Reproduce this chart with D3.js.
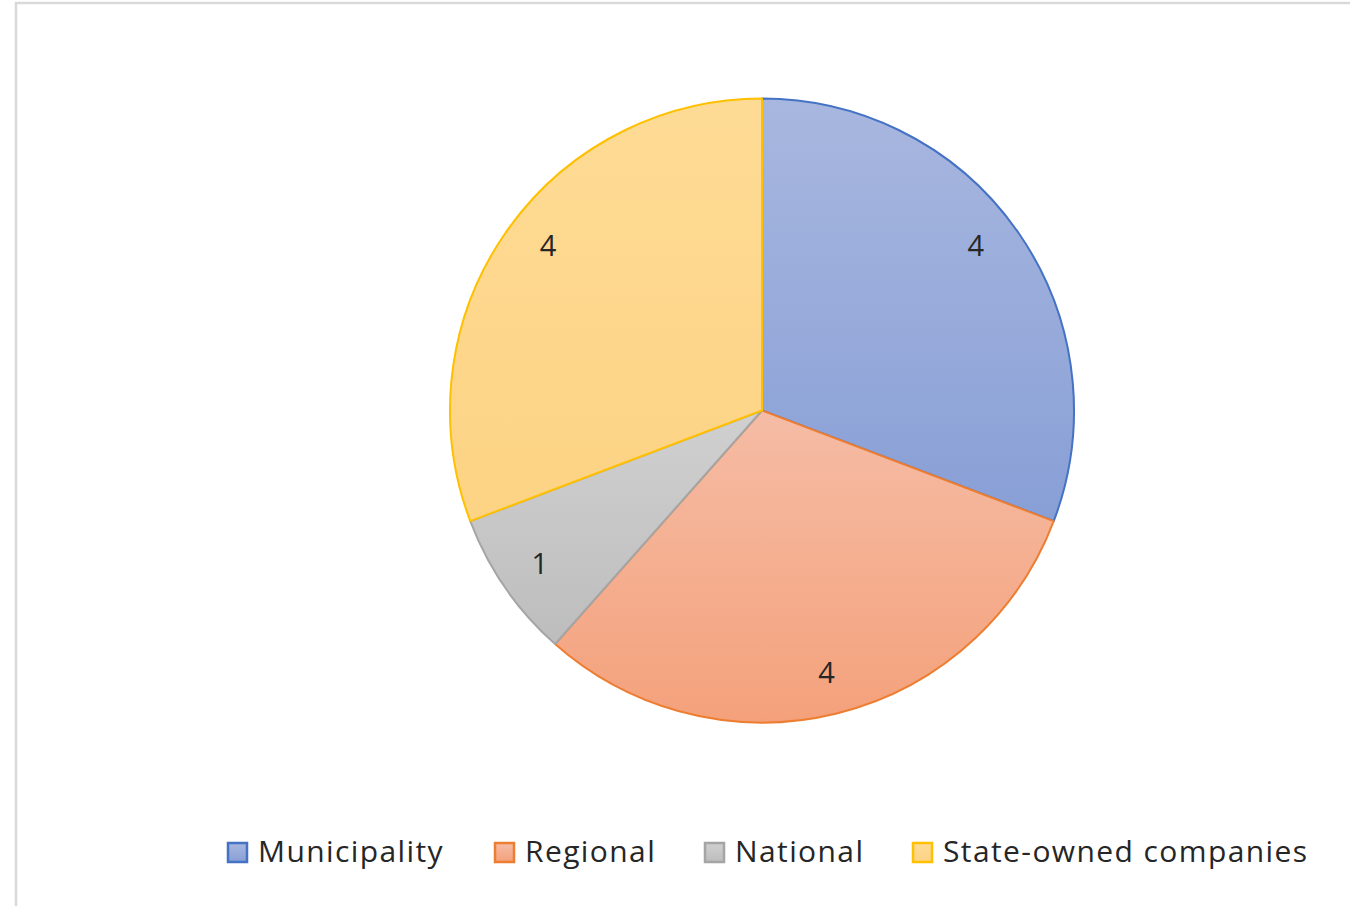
<!DOCTYPE html>
<html><head><meta charset="utf-8">
<script src="https://cdn.jsdelivr.net/npm/d3@7"></script>
<style>html,body{margin:0;padding:0;background:#fff;}svg{display:block;}</style>
</head><body>
<svg id="chart" width="1350" height="906"></svg>
<script>
const categories = ["Municipality", "Regional", "National", "State-owned companies"];
const values = [4, 4, 1, 4];
const strokeColors = ["#4472c4", "#ed7d31", "#a5a5a5", "#ffc000"];
const gradTop = ["#a8b7df", "#f5bca5", "#d0d0d0", "#fedb95"];
const gradBottom = ["#889fd6", "#f4a17b", "#bdbdbd", "#fdd384"];
const legendX = [228, 495, 705, 913];

const svg = d3.select("#chart");
svg.append("rect").attr("x", 16).attr("y", 3).attr("width", 1350).attr("height", 920)
  .attr("fill", "#fff").attr("stroke", "#d9d9d9").attr("stroke-width", 2.5);

const defs = svg.append("defs");
categories.forEach((c, i) => {
  const g = defs.append("linearGradient").attr("id", "g" + i)
    .attr("x1", 0).attr("y1", 0).attr("x2", 0).attr("y2", 1);
  g.append("stop").attr("offset", "0%").attr("stop-color", gradTop[i]);
  g.append("stop").attr("offset", "100%").attr("stop-color", gradBottom[i]);
});

const cx = 762, cy = 410.5, R = 312;
const pie = d3.pie().sort(null).value(d => d)(values);
const arc = d3.arc().innerRadius(0).outerRadius(R);
const labelR = 270;

const g = svg.append("g").attr("transform", `translate(${cx},${cy})`);
g.selectAll("path").data(pie).join("path")
  .attr("d", arc)
  .attr("fill", (d, i) => `url(#g${i})`)
  .attr("stroke", (d, i) => strokeColors[i])
  .attr("stroke-width", 2)
  .attr("stroke-linejoin", "round");

// label position: mid-angle, pulled slightly toward the vertical for upper slices
function labelPos(d) {
  let a = (d.startAngle + d.endAngle) / 2;
  if (Math.cos(a) > 0) a -= Math.sign(Math.sin(a)) * (3 * Math.PI / 180);
  return [labelR * Math.sin(a), -labelR * Math.cos(a)];
}

g.selectAll("text.lbl").data(pie).join("text").attr("class", "lbl")
  .attr("transform", d => `translate(${labelPos(d)})`)
  .attr("text-anchor", "middle").attr("dy", "0.36em")
  .attr("font-family", "Open Sans, sans-serif").attr("font-size", 29)
  .attr("fill", "#262626")
  .text(d => d.data);

const leg = svg.append("g");
categories.forEach((c, i) => {
  leg.append("rect").attr("x", legendX[i]).attr("y", 843).attr("width", 19).attr("height", 19)
    .attr("fill", `url(#g${i})`).attr("stroke", strokeColors[i]).attr("stroke-width", 2.5);
  leg.append("text").attr("x", legendX[i] + 30).attr("y", 862)
    .attr("font-family", "Open Sans, sans-serif").attr("font-size", 30)
    .attr("letter-spacing", 1.4)
    .attr("fill", "#262626").text(c);
});
</script>
</body></html>
